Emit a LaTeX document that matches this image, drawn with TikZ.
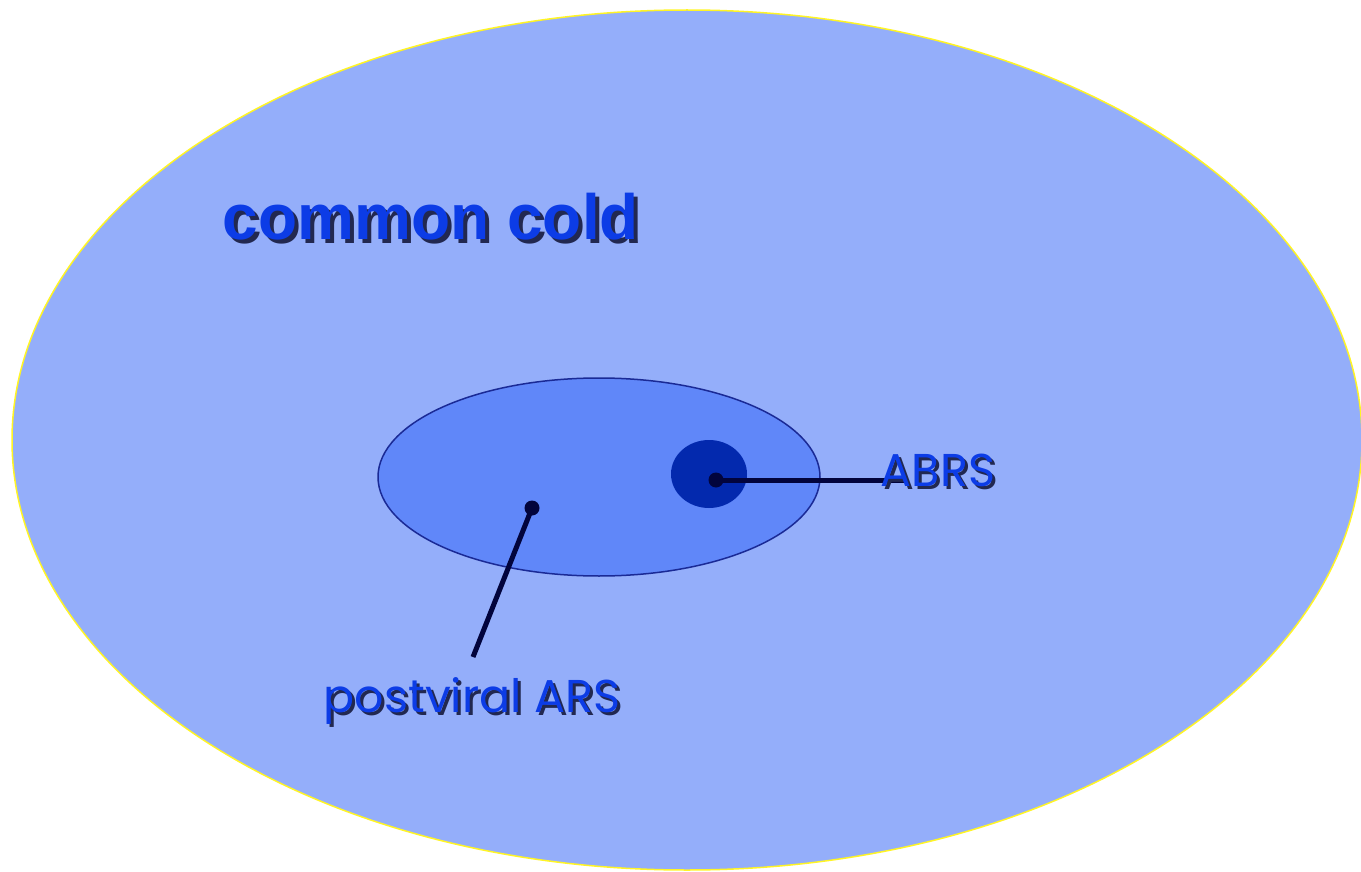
\documentclass[tikz,border=0pt]{standalone}
\usepackage{fontspec}
\setmainfont{Liberation Sans}
\newfontfamily\geofont{Poppins}
\usetikzlibrary{positioning}
\definecolor{coldfill}{RGB}{148,174,250}
\definecolor{arsfill}{RGB}{96,135,249}
\definecolor{arsline}{RGB}{26,42,150}
\definecolor{abrsfill}{RGB}{3,41,174}
\definecolor{labelblue}{RGB}{12,60,230}
\definecolor{shade}{RGB}{34,40,80}
\definecolor{stick}{RGB}{2,4,60}
% text with a drop shadow, in one box
\newcommand\shadowed[2]{\rlap{\hspace*{#1}\raisebox{-#1}{\color{shade}#2}}#2}
\begin{document}
\begin{tikzpicture}[x=1pt,y=-1pt]
\tikzstyle{dot}=[circle, fill=stick, inner sep=0pt, minimum size=15pt]
\tikzstyle{bigtext}=[font=\bfseries\fontsize{64}{70}\selectfont, text=labelblue, inner sep=0pt, anchor=base]
\tikzstyle{smalltext}=[font=\geofont\fontsize{46}{52}\selectfont, text=labelblue, inner sep=0pt, anchor=base]
\tikzstyle{pointer}=[draw=stick, line width=5pt]
    \useasboundingbox (0,0) rectangle (1361,872);

    % the ellipses
    \fill[coldfill, draw=yellow!85!white, line width=1.5pt] (687,440) ellipse [x radius=675, y radius=430];
    \fill[arsfill, draw=arsline, line width=1.5pt] (599,477) ellipse [x radius=221, y radius=99];
    \fill[abrsfill] (709,474) ellipse [x radius=38, y radius=34];

    % pointers
    \node[dot] (abrsdot) at (716,480) {};
    \node[dot] (arsdot) at (532,508) {};
    \coordinate (abrsend) at (908,480);
    \coordinate (arsend) at (473,657);
    \draw[pointer] (abrsdot.center) -- (abrsend);
    \draw[pointer] (arsdot.center) -- (arsend);

    % labels
    \node[bigtext] (cold) at (431,240) {\shadowed{4pt}{common cold}};
    \node[smalltext] (abrs) at (938,486) {\shadowed{3pt}{ABRS}};
    \node[smalltext] (ars) at (472,712) {\shadowed{3pt}{postviral ARS}};

\end{tikzpicture}
\end{document}
